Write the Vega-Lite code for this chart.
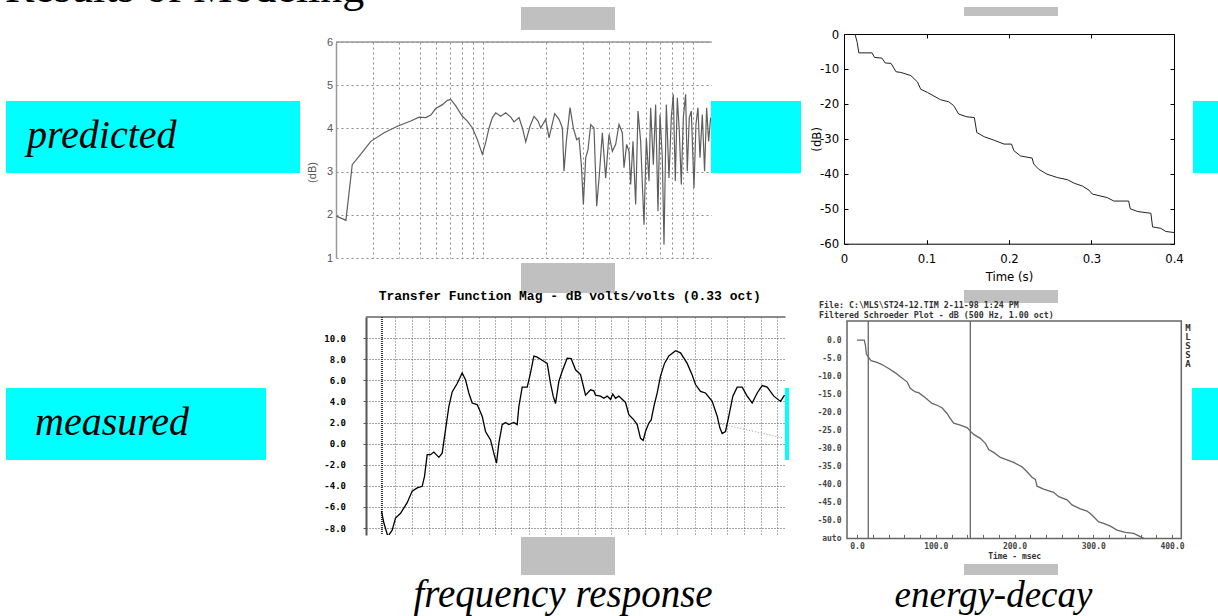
{
"$schema":"https://vega.github.io/schema/vega-lite/v6.json",
"background":"white",
"padding":0,
"spacing":0,
"bounds":"flush",
"config":{"view":{"stroke":null},"axis":{"labelFlush":false,"labelOverlap":false,"labelBound":false,"tickCount":1000}},
"datasets":{
"tl":[{"hz":20.1,"db":1.97},{"hz":22.3,"db":1.87},{"hz":23.9,"db":3.16},{"hz":25.8,"db":3.36},{"hz":29.3,"db":3.7},{"hz":33.9,"db":3.9},{"hz":39.2,"db":4.05},{"hz":45.4,"db":4.17},{"hz":49.8,"db":4.26},{"hz":53.5,"db":4.25},{"hz":56.6,"db":4.31},{"hz":59.7,"db":4.46},{"hz":64.3,"db":4.55},{"hz":67.9,"db":4.65},{"hz":70.4,"db":4.67},{"hz":74.4,"db":4.52},{"hz":80,"db":4.28},{"hz":84.5,"db":4.17},{"hz":89.3,"db":4.01},{"hz":94.3,"db":3.74},{"hz":99.6,"db":3.4},{"hz":103.3,"db":3.67},{"hz":107.2,"db":4.01},{"hz":111.2,"db":4.25},{"hz":115.3,"db":4.36},{"hz":121.8,"db":4.28},{"hz":128.7,"db":4.36},{"hz":136,"db":4.26},{"hz":141,"db":4.15},{"hz":148.9,"db":4.25},{"hz":154.5,"db":4.01},{"hz":160.3,"db":3.69},{"hz":168,"db":4.05},{"hz":175.6,"db":4.28},{"hz":183.4,"db":4.17},{"hz":188.9,"db":4.01},{"hz":199.5,"db":4.21},{"hz":207,"db":3.78},{"hz":212.3,"db":4.01},{"hz":220.2,"db":4.34},{"hz":231,"db":4.21},{"hz":239.6,"db":4.01},{"hz":243.9,"db":3.01},{"hz":250.2,"db":3.7},{"hz":260.6,"db":4.48},{"hz":270.2,"db":4.01},{"hz":280.3,"db":3.74},{"hz":287.6,"db":3.78},{"hz":295,"db":3.16},{"hz":301.6,"db":2.24},{"hz":309.4,"db":3.32},{"hz":317.4,"db":3.51},{"hz":326.8,"db":4.09},{"hz":339,"db":4.01},{"hz":349.1,"db":2.2},{"hz":359.4,"db":2.93},{"hz":371.4,"db":3.9},{"hz":385.2,"db":2.85},{"hz":399.6,"db":3.86},{"hz":414.5,"db":3.47},{"hz":429.9,"db":3.63},{"hz":445.9,"db":4.09},{"hz":462.5,"db":3.9},{"hz":471,"db":3.09},{"hz":485,"db":3.63},{"hz":497.6,"db":3.47},{"hz":506.8,"db":2.7},{"hz":519.9,"db":3.7},{"hz":535.3,"db":2.24},{"hz":549.2,"db":4.4},{"hz":565.5,"db":3.7},{"hz":586.6,"db":1.77},{"hz":601.8,"db":3.78},{"hz":619.7,"db":2.78},{"hz":631,"db":4.48},{"hz":649.7,"db":3.16},{"hz":666.5,"db":4.55},{"hz":683.8,"db":2.08},{"hz":699,"db":4.32},{"hz":717,"db":3.32},{"hz":730.5,"db":1.31},{"hz":749.4,"db":4.55},{"hz":771.6,"db":2.85},{"hz":791.5,"db":4.25},{"hz":809,"db":4.79},{"hz":827,"db":2.78},{"hz":845.3,"db":4.71},{"hz":864,"db":3.94},{"hz":883,"db":2.7},{"hz":903,"db":4.25},{"hz":926,"db":4.79},{"hz":943,"db":3.01},{"hz":964,"db":4.25},{"hz":985.6,"db":4.4},{"hz":1015,"db":2.62},{"hz":1037,"db":4.09},{"hz":1060,"db":4.48},{"hz":1084,"db":3.32},{"hz":1112,"db":4.32},{"hz":1140,"db":3.01},{"hz":1166,"db":4.48},{"hz":1192,"db":3.7},{"hz":1218,"db":4.25}],
"tr":[{"t":0.0133,"db":0},{"t":0.016,"db":-2.4},{"t":0.018,"db":-5.4},{"t":0.034,"db":-5.4},{"t":0.037,"db":-6.7},{"t":0.046,"db":-6.9},{"t":0.05,"db":-8.3},{"t":0.057,"db":-8.4},{"t":0.063,"db":-10.8},{"t":0.069,"db":-11},{"t":0.081,"db":-11.9},{"t":0.089,"db":-13.7},{"t":0.093,"db":-15.8},{"t":0.101,"db":-16.7},{"t":0.117,"db":-18.8},{"t":0.127,"db":-19.4},{"t":0.133,"db":-20.5},{"t":0.139,"db":-22.9},{"t":0.149,"db":-23.7},{"t":0.158,"db":-23.9},{"t":0.161,"db":-28.2},{"t":0.17,"db":-29.4},{"t":0.182,"db":-30.4},{"t":0.194,"db":-31.5},{"t":0.203,"db":-31.5},{"t":0.206,"db":-33.4},{"t":0.214,"db":-34.9},{"t":0.228,"db":-35.5},{"t":0.23,"db":-37.2},{"t":0.236,"db":-38.7},{"t":0.246,"db":-40.1},{"t":0.259,"db":-41.1},{"t":0.271,"db":-41.7},{"t":0.279,"db":-42.7},{"t":0.289,"db":-43.5},{"t":0.297,"db":-44.7},{"t":0.301,"db":-45.8},{"t":0.319,"db":-46.8},{"t":0.327,"db":-47.8},{"t":0.345,"db":-47.8},{"t":0.347,"db":-50},{"t":0.356,"db":-50.8},{"t":0.372,"db":-51.3},{"t":0.374,"db":-55.2},{"t":0.384,"db":-55.6},{"t":0.39,"db":-56.5},{"t":0.4,"db":-56.8}],
"bl":[{"hz":20.78,"db":-6.4},{"hz":21.46,"db":-7.5},{"hz":22.69,"db":-8.8},{"hz":24.09,"db":-8.2},{"hz":25.23,"db":-7.05},{"hz":27.05,"db":-6.6},{"hz":29.66,"db":-5.6},{"hz":31.79,"db":-4.5},{"hz":34.07,"db":-4.2},{"hz":36.52,"db":-4.05},{"hz":37.72,"db":-3.1},{"hz":39.14,"db":-1.05},{"hz":40.99,"db":-1.05},{"hz":42.93,"db":-0.8},{"hz":46.01,"db":-1.3},{"hz":48.19,"db":-0.9},{"hz":50.46,"db":1.3},{"hz":52.85,"db":3.5},{"hz":55.35,"db":4.9},{"hz":59.32,"db":5.7},{"hz":63.58,"db":6.7},{"hz":66.59,"db":6.05},{"hz":69.73,"db":4.8},{"hz":73.03,"db":3.85},{"hz":78.28,"db":3.7},{"hz":83.9,"db":2.6},{"hz":87.87,"db":1.15},{"hz":94.2,"db":0.35},{"hz":98.6,"db":-0.9},{"hz":102.3,"db":-1.85},{"hz":105.7,"db":0.05},{"hz":110.7,"db":1.8},{"hz":115.9,"db":2.0},{"hz":121.4,"db":1.8},{"hz":130.1,"db":2.0},{"hz":136.3,"db":1.8},{"hz":139.5,"db":3.5},{"hz":146.1,"db":5.35},{"hz":156.6,"db":5.35},{"hz":164,"db":6.7},{"hz":171.7,"db":8.3},{"hz":179.9,"db":8.2},{"hz":192.8,"db":7.9},{"hz":206.6,"db":7.6},{"hz":216.4,"db":5.7},{"hz":224.5,"db":4.5},{"hz":231.9,"db":3.8},{"hz":242.9,"db":5.9},{"hz":254.3,"db":6.85},{"hz":272.6,"db":8.1},{"hz":288.2,"db":8.05},{"hz":306,"db":7.0},{"hz":328,"db":6.55},{"hz":343.5,"db":5.25},{"hz":351.5,"db":4.6},{"hz":376.7,"db":5.1},{"hz":394.5,"db":5.0},{"hz":403.7,"db":4.6},{"hz":432.7,"db":4.5},{"hz":453.2,"db":4.3},{"hz":474.6,"db":4.5},{"hz":497.1,"db":4.2},{"hz":513.4,"db":4.7},{"hz":532.8,"db":4.3},{"hz":557.9,"db":4.5},{"hz":584.3,"db":4.2},{"hz":612,"db":3.9},{"hz":640.8,"db":2.75},{"hz":686.8,"db":2.25},{"hz":719.3,"db":1.8},{"hz":753.3,"db":0.5},{"hz":781.8,"db":0.3},{"hz":807.4,"db":1.15},{"hz":845.6,"db":1.95},{"hz":873.5,"db":2.25},{"hz":906.3,"db":3.5},{"hz":949.2,"db":4.8},{"hz":994,"db":6.4},{"hz":1050.7,"db":7.6},{"hz":1115.7,"db":8.3},{"hz":1224,"db":8.8},{"hz":1311.8,"db":8.6},{"hz":1438.7,"db":7.6},{"hz":1542,"db":6.5},{"hz":1614.8,"db":5.6},{"hz":1730.7,"db":4.95},{"hz":1855,"db":4.8},{"hz":2034.7,"db":4.0},{"hz":2180.8,"db":2.6},{"hz":2262.7,"db":1.5},{"hz":2337,"db":0.95},{"hz":2447.8,"db":1.15},{"hz":2563,"db":2.6},{"hz":2709,"db":4.5},{"hz":2877,"db":5.35},{"hz":3084,"db":5.35},{"hz":3305,"db":4.5},{"hz":3542,"db":3.85},{"hz":3797,"db":4.8},{"hz":4069,"db":5.5},{"hz":4361,"db":5.35},{"hz":4783,"db":4.5},{"hz":5248,"db":4.0},{"hz":5546,"db":4.6}],
"br":[{"ms":0,"db":0},{"ms":9.3,"db":0},{"ms":11,"db":-1.85},{"ms":11.9,"db":-3.9},{"ms":14.8,"db":-4.8},{"ms":17.8,"db":-5.7},{"ms":25.4,"db":-6.2},{"ms":31.7,"db":-6.8},{"ms":40.2,"db":-7.9},{"ms":48.7,"db":-9.1},{"ms":55,"db":-10.2},{"ms":63.5,"db":-11.6},{"ms":67.7,"db":-13.4},{"ms":74,"db":-14.4},{"ms":78.3,"db":-14.6},{"ms":86.8,"db":-16.0},{"ms":95.2,"db":-17.6},{"ms":101.6,"db":-18.1},{"ms":107.9,"db":-18.8},{"ms":114.3,"db":-20.4},{"ms":118.5,"db":-21.8},{"ms":122.8,"db":-23.1},{"ms":131.2,"db":-23.6},{"ms":139.7,"db":-24.3},{"ms":143.9,"db":-25.3},{"ms":148.1,"db":-26.2},{"ms":156.6,"db":-27.3},{"ms":163,"db":-28.7},{"ms":167.2,"db":-30.4},{"ms":173.5,"db":-31.2},{"ms":182,"db":-32.6},{"ms":190.5,"db":-33.3},{"ms":198.9,"db":-34.0},{"ms":209.5,"db":-35.2},{"ms":215.9,"db":-36.6},{"ms":222.2,"db":-38.1},{"ms":226.5,"db":-38.7},{"ms":228.6,"db":-40.6},{"ms":237,"db":-41.4},{"ms":249.7,"db":-42.3},{"ms":256.1,"db":-43.5},{"ms":266.7,"db":-44.4},{"ms":273,"db":-45.8},{"ms":283.6,"db":-46.9},{"ms":292.1,"db":-47.5},{"ms":298.4,"db":-48.6},{"ms":306.9,"db":-50.5},{"ms":313.2,"db":-50.9},{"ms":321.7,"db":-51.7},{"ms":330.2,"db":-52.8},{"ms":340.7,"db":-53.4},{"ms":351.3,"db":-53.7},{"ms":357.7,"db":-54.4},{"ms":364,"db":-55.1}]
},
"vconcat":[
{"hconcat":[
 {"width":6,"height":1,"data":{"values":[]},"mark":"point"},
 {"width":359,"height":16,"data":{"values":[{"t":"Results of Modeling"}]},"mark":{"type":"text","font":"Liberation Serif","fontSize":44,"align":"left","baseline":"alphabetic","dx":-180.5,"dy":-6.5,"clip":true,"color":"black"},"encoding":{"text":{"field":"t"}}}
],"spacing":0,"bounds":"flush"},
{"width":1,"height":7,"data":{"values":[]},"mark":"point"},
{"hconcat":[
 {"width":521,"height":1,"data":{"values":[]},"mark":"point"},
 {"width":94,"height":23,"view":{"fill":"#C0C0C0"},"data":{"values":[]},"mark":"point"},
 {"width":349,"height":1,"data":{"values":[]},"mark":"point"},
 {"width":94,"height":9,"view":{"fill":"#C0C0C0"},"data":{"values":[]},"mark":"point"}
],"spacing":0,"bounds":"flush"},
{"width":1,"height":26.3,"data":{"values":[]},"mark":"point"},
{"hconcat":[
 {"width":843.3,"height":1,"data":{"values":[]},"mark":"point"},
 {"width":330,"height":209.7,"view":{"stroke":"black","strokeWidth":1},
  "data":{"name":"tr"},
  "layer":[
   {"mark":{"type":"line","color":"#222","strokeWidth":1},
    "encoding":{
     "x":{"field":"t","type":"quantitative","scale":{"domain":[0,0.4],"nice":false},"axis":{"values":[0,0.1,0.2,0.3,0.4],"tickCount":1000,"labelExpr":"'' + datum.value","labelOverlap":false,"tickSize":-4,"tickColor":"black","domain":false,"grid":false,"labelPadding":12.5,"labelFont":"Liberation Sans Narrow, DejaVu Sans Condensed, Liberation Sans","labelFontSize":13,"labelColor":"black","title":"Time (s)","titleFont":"Liberation Sans Narrow, DejaVu Sans Condensed, Liberation Sans","titleFontSize":13,"titleFontWeight":"normal","titleColor":"black","titleY":37,"titleBaseline":"alphabetic"}},
     "y":{"field":"db","type":"quantitative","scale":{"domain":[-60,0],"nice":false,"zero":false},"axis":{"values":[0,-10,-20,-30,-40,-50,-60],"tickCount":1000,"labelExpr":"'' + datum.value","labelOverlap":false,"tickSize":-4,"tickColor":"black","domain":false,"grid":false,"labelPadding":9.3,"labelFont":"Liberation Sans Narrow, DejaVu Sans Condensed, Liberation Sans","labelFontSize":13,"labelColor":"black","title":"(dB)","titleFont":"Liberation Sans Narrow, DejaVu Sans Condensed, Liberation Sans","titleFontSize":13,"titleFontWeight":"normal","titleColor":"black","titleX":-21,"titleBaseline":"bottom"}}}},
   {"mark":{"type":"line","opacity":0},
    "encoding":{
     "x":{"field":"t","type":"quantitative","scale":{"domain":[0,0.4],"nice":false},"axis":{"orient":"top","values":[0,0.1,0.2,0.3,0.4],"tickCount":1000,"labels":false,"tickSize":-4,"tickColor":"black","domain":false,"grid":false,"title":null}},
     "y":{"field":"db","type":"quantitative","scale":{"domain":[-60,0],"nice":false,"zero":false},"axis":{"orient":"right","values":[0,-10,-20,-30,-40,-50,-60],"tickCount":1000,"labels":false,"tickSize":-4,"tickColor":"black","domain":false,"grid":false,"title":null}}}}
  ],
  "resolve":{"axis":{"x":"independent","y":"independent"}}}
],"spacing":0,"bounds":"flush"},
{"width":1,"height":7.7,"data":{"values":[]},"mark":"point"},
{"hconcat":[
 {"width":335.5,"height":1,"data":{"values":[]},"mark":"point"},
 {"width":375.5,"height":216,
  "layer":[
   {"data":{"values":[{}]},"mark":{"type":"rule","color":"#999","strokeWidth":1.5},"encoding":{"y":{"datum":6,"type":"quantitative","scale":{"domain":[1,6],"nice":false,"zero":false}}}},
   {"data":{"name":"tl"},"mark":{"type":"line","color":"#5e5e5e","strokeWidth":1.2,"clip":true},
    "encoding":{
     "x":{"field":"hz","type":"quantitative","scale":{"type":"log","domain":[20,1230],"nice":false},"axis":{"values":[30,40,50,60,70,80,90,100,200,300,400,500,600,700,800,900,1000],"tickCount":1000,"labels":false,"ticks":false,"domain":false,"grid":true,"gridDash":[2,3],"gridColor":"#888","title":null}},
     "y":{"field":"db","type":"quantitative","scale":{"domain":[1,6],"nice":false,"zero":false},"axis":{"values":[1,2,3,4,5,6],"tickCount":1000,"format":"d","labelOverlap":false,"grid":true,"gridDash":[2,3],"gridColor":"#888","domain":true,"domainColor":"#999","domainWidth":1.5,"ticks":false,"labelFont":"Liberation Sans","labelFontSize":11,"labelColor":"#555","labelPadding":3.5,"title":"(dB)","titleFont":"Liberation Sans","titleFontSize":11,"titleFontWeight":"normal","titleColor":"#555","titleX":-19,"titleY":130,"titleBaseline":"bottom"}}}}
  ]}
],"spacing":0,"bounds":"flush"},
{"width":1,"height":59,"data":{"values":[]},"mark":"point"},
{"hconcat":[
 {"width":6,"height":1,"data":{"values":[]},"mark":"point"},
 {"width":294,"height":72,"view":{"fill":"#00FFFF"},"data":{"values":[{"t":"predicted"}]},"mark":{"type":"text","font":"Liberation Serif","fontStyle":"italic","fontSize":40,"align":"left","baseline":"alphabetic","dx":-126,"dy":11.3,"color":"black"},"encoding":{"text":{"field":"t"}}},
 {"width":411,"height":1,"data":{"values":[]},"mark":"point"},
 {"width":90,"height":72,"view":{"fill":"#00FFFF"},"data":{"values":[]},"mark":"point"},
 {"width":392,"height":1,"data":{"values":[]},"mark":"point"},
 {"width":30,"height":72,"view":{"fill":"#00FFFF"},"data":{"values":[]},"mark":"point"}
],"spacing":0,"bounds":"flush"},
{"width":1,"height":162,"data":{"values":[]},"mark":"point"},
{"hconcat":[
 {"width":521,"height":1,"data":{"values":[]},"mark":"point"},
 {"width":94,"height":30,"view":{"fill":"#C0C0C0"},"data":{"values":[]},"mark":"point"}
],"spacing":0,"bounds":"flush"},
{"width":1,"height":27,"data":{"values":[]},"mark":"point"},
{"hconcat":[
 {"width":964,"height":1,"data":{"values":[]},"mark":"point"},
 {"width":94,"height":13,"view":{"fill":"#C0C0C0"},"data":{"values":[]},"mark":"point"}
],"spacing":0,"bounds":"flush"},
{"width":1,"height":27,"data":{"values":[]},"mark":"point"},
{"hconcat":[
 {"width":365.5,"height":1,"data":{"values":[]},"mark":"point"},
 {"width":419.5,"height":218,
  "title":{"text":"Transfer Function Mag - dB volts/volts (0.33 oct)","font":"Liberation Mono","fontSize":13,"fontWeight":"bold","color":"black","anchor":"middle","offset":3.5,"baseline":"alphabetic","dx":-6},
  "layer":[
   {"data":{"values":[{}]},"mark":{"type":"rule","color":"#666","strokeWidth":1.5},"encoding":{"y":{"datum":12,"type":"quantitative","scale":{"domain":[-8.66,12],"nice":false,"zero":false}}}},
   {"data":{"values":[{}]},"mark":{"type":"rule","color":"#333","strokeWidth":2,"strokeDash":[1,1]},"encoding":{"x":{"datum":20.9,"type":"quantitative","scale":{"type":"log","domain":[16.76,5622],"nice":false}}}},
   {"data":{"values":[{"hz":2082,"db":2.0},{"hz":5495,"db":0.53}]},"mark":{"type":"line","color":"#999","strokeWidth":1,"strokeDash":[1,2]},"encoding":{"x":{"field":"hz","type":"quantitative","scale":{"type":"log","domain":[16.76,5622],"nice":false}},"y":{"field":"db","type":"quantitative","scale":{"domain":[-8.66,12],"nice":false,"zero":false}}}},
   {"data":{"name":"bl"},"mark":{"type":"line","color":"black","strokeWidth":1.3,"clip":true},
    "encoding":{
     "x":{"field":"hz","type":"quantitative","scale":{"type":"log","domain":[16.76,5622],"nice":false},"axis":{"values":[25,31.5,40,50,63,80,100,125,160,200,250,315,400,500,630,800,1000,1250,1600,2000,2500,3150,4000,5000],"tickCount":1000,"labels":false,"ticks":false,"domain":false,"grid":true,"gridDash":[1,2],"gridColor":"#666","title":null}},
     "y":{"field":"db","type":"quantitative","scale":{"domain":[-8.66,12],"nice":false,"zero":false},"axis":{"values":[-8,-6,-4,-2,0,2,4,6,8,10],"tickCount":1000,"labelExpr":"replace(format(datum.value,'.1f'),'\u2212','-')","labelOverlap":false,"grid":true,"gridDash":[1,2],"gridColor":"#444","domain":true,"domainColor":"#555","domainWidth":2,"ticks":true,"tickSize":3,"tickColor":"#555","labelFont":"DejaVu Sans Mono","labelFontSize":9,"labelFontWeight":"bold","labelColor":"black","labelPadding":17.5,"title":null}}}}
  ]}
],"spacing":0,"bounds":"flush"},
{"width":1,"height":3.3,"data":{"values":[]},"mark":"point"},
{"hconcat":[
 {"width":846.7,"height":1,"data":{"values":[]},"mark":"point"},
 {"width":334.3,"height":217.4,"view":{"stroke":"#666","strokeWidth":1.5},
  "title":{"text":["File: C:\\MLS\\ST24-12.TIM 2-11-98 1:24 PM","Filtered Schroeder Plot - dB (500 Hz, 1.00 oct)"],"anchor":"start","font":"DejaVu Sans Mono","fontSize":8.3,"fontWeight":"bold","color":"#333","lineHeight":9.2,"offset":1.5,"dx":2},
  "layer":[
   {"data":{"values":[{"ms":14.3},{"ms":143.9}]},"mark":{"type":"rule","color":"#666","strokeWidth":1.3},"encoding":{"x":{"field":"ms","type":"quantitative","scale":{"domain":[-12.7,411.8],"nice":false,"zero":false}}}},
   {"data":{"name":"br"},"mark":{"type":"line","color":"#666","strokeWidth":1.3},
    "encoding":{
     "x":{"field":"ms","type":"quantitative","scale":{"domain":[-12.7,411.8],"nice":false,"zero":false},"axis":{"values":[0,20,40,60,80,100,120,140,160,180,200,220,240,260,280,300,320,340,360,380,400],"tickCount":1000,"labelExpr":"datum.value % 100 === 0 ? replace(format(datum.value,'.1f'),'\u2212','-') : ''","labelOverlap":false,"tickSize":-4,"tickColor":"#666","domain":false,"grid":false,"labelPadding":8,"labelFont":"DejaVu Sans Mono","labelFontSize":8,"labelFontWeight":"bold","labelColor":"#444","title":"Time - msec","titleFont":"DejaVu Sans Mono","titleFontSize":8,"titleFontWeight":"bold","titleColor":"#333","titleY":20.3,"titleBaseline":"alphabetic"}},
     "y":{"field":"db","type":"quantitative","scale":{"domain":[-55.1,5.3],"nice":false,"zero":false},"axis":{"values":[0,-5,-10,-15,-20,-25,-30,-35,-40,-45,-50,-55],"tickCount":1000,"labelExpr":"datum.value === -55 ? 'auto' : replace(format(datum.value,'.1f'),'\u2212','-')","labelOverlap":false,"ticks":false,"domain":false,"grid":false,"labelPadding":6,"labelFont":"DejaVu Sans Mono","labelFontSize":8,"labelFontWeight":"bold","labelColor":"#444","title":null}}}},
   {"data":{"values":[{}]},"mark":{"type":"text","text":["M","L","S","S","A"],"lineHeight":9,"font":"DejaVu Sans Mono","fontSize":9,"fontWeight":"bold","align":"left","baseline":"top","dx":4,"dy":3,"color":"#333"},"encoding":{"x":{"datum":411.8,"type":"quantitative"},"y":{"datum":5.3,"type":"quantitative"}}}
  ]}
],"spacing":0,"bounds":"flush"},
{"width":1,"height":66.7,"data":{"values":[]},"mark":"point"},
{"hconcat":[
 {"width":6,"height":1,"data":{"values":[]},"mark":"point"},
 {"width":260,"height":72,"view":{"fill":"#00FFFF"},"data":{"values":[{"t":"measured"}]},"mark":{"type":"text","font":"Liberation Serif","fontStyle":"italic","fontSize":40,"align":"left","baseline":"alphabetic","dx":-101,"dy":10.7,"color":"black"},"encoding":{"text":{"field":"t"}}},
 {"width":519,"height":1,"data":{"values":[]},"mark":"point"},
 {"width":4,"height":72,"view":{"fill":"#00FFFF"},"data":{"values":[]},"mark":"point"},
 {"width":403,"height":1,"data":{"values":[]},"mark":"point"},
 {"width":30,"height":72,"view":{"fill":"#00FFFF"},"data":{"values":[]},"mark":"point"}
],"spacing":0,"bounds":"flush"},
{"width":1,"height":149,"data":{"values":[]},"mark":"point"},
{"hconcat":[
 {"width":521,"height":1,"data":{"values":[]},"mark":"point"},
 {"width":94,"height":38,"view":{"fill":"#C0C0C0"},"data":{"values":[]},"mark":"point"}
],"spacing":0,"bounds":"flush"},
{"width":1,"height":27,"data":{"values":[]},"mark":"point"},
{"hconcat":[
 {"width":964,"height":1,"data":{"values":[]},"mark":"point"},
 {"width":94,"height":11,"view":{"fill":"#C0C0C0"},"data":{"values":[]},"mark":"point"}
],"spacing":0,"bounds":"flush"},
{"width":1,"height":11,"data":{"values":[]},"mark":"point"},
{"hconcat":[
 {"width":413,"height":1,"data":{"values":[]},"mark":"point"},
 {"width":300,"height":43,"data":{"values":[{"t":"frequency response"}]},"mark":{"type":"text","font":"Liberation Serif","fontStyle":"italic","fontSize":39,"align":"center","baseline":"alphabetic","dy":10.5,"color":"black"},"encoding":{"text":{"field":"t"}}},
 {"width":184,"height":1,"data":{"values":[]},"mark":"point"},
 {"width":193,"height":43,"data":{"values":[{"t":"energy-decay"}]},"mark":{"type":"text","font":"Liberation Serif","fontStyle":"italic","fontSize":37,"align":"center","baseline":"alphabetic","dy":10.5,"color":"black"},"encoding":{"text":{"field":"t"}}}
],"spacing":0,"bounds":"flush"}
]
}
